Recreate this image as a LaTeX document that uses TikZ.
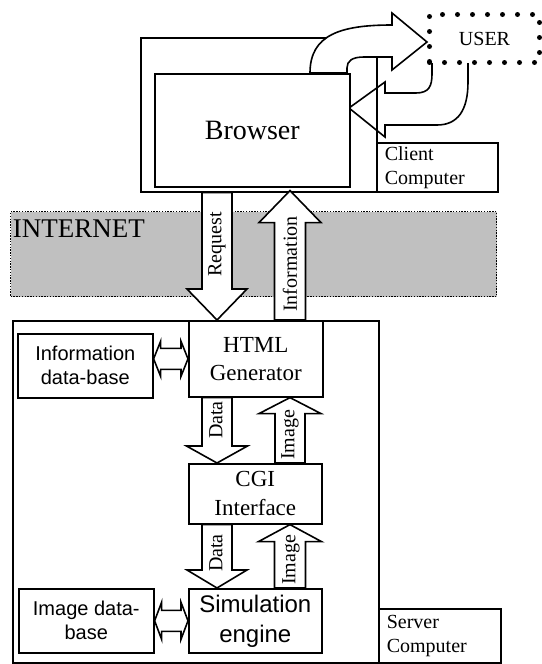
\documentclass[tikz,border=0pt]{standalone}
\usepackage{fontspec}
\setmainfont{Liberation Serif}
\newfontfamily\sansfam{Liberation Sans}
\usetikzlibrary{calc}
\definecolor{netgray}{RGB}{192,192,192}

% vertical block arrow: #1 start point, #2 tip point,
% #3 shaft half width, #4 head half width, #5 head length
\newcommand\vblock[5]{%
  \draw[blk] let \p1=#1, \p2=#2, \n1={sign((\y1)-(\y2))*#5} in
    ({\x2-#3},{\y1}) -- ({\x2-#3},{\y2+\n1}) -- ({\x2-#4},{\y2+\n1}) -- (\x2,\y2)
    -- ({\x2+#4},{\y2+\n1}) -- ({\x2+#3},{\y2+\n1}) -- ({\x2+#3},{\y1}) -- cycle;}

% horizontal double block arrow: #1 left tip, #2 right tip,
% #3 shaft half width, #4 head half width, #5 head length
\newcommand\hdouble[5]{%
  \draw[blk] let \p1=#1, \p2=#2 in
    (\x1,\y1) -- ({\x1+#5},{\y1+#4}) -- ({\x1+#5},{\y1+#3}) -- ({\x2-#5},{\y1+#3})
    -- ({\x2-#5},{\y1+#4}) -- (\x2,\y1) -- ({\x2-#5},{\y1-#4}) -- ({\x2-#5},{\y1-#3})
    -- ({\x1+#5},{\y1-#3}) -- ({\x1+#5},{\y1-#4}) -- cycle;}

\begin{document}
\begin{tikzpicture}[x=1pt, y=-1pt, line width=1.6pt,
  box/.style={draw, fill=white, inner sep=0pt, anchor=north west},
  frame/.style={draw, inner sep=0pt, anchor=north west},
  blk/.style={draw, fill=white, line join=miter, miter limit=10},
  sansf/.style={font=\sansfam\fontsize{20pt}{24pt}\selectfont},
  lbl/.style={font=\fontsize{20pt}{24pt}\selectfont, inner sep=0pt, rotate=90}]
\useasboundingbox (0,0) rectangle (541,664);

% Internet band
\node (net) [frame, fill=netgray, line width=1.3pt, dash pattern=on 1.4pt off 1.4pt,
  minimum width=486pt, minimum height=85pt] at (10,211) {};
\node (netlabel) [anchor=base west, inner sep=0pt, font=\fontsize{27pt}{32pt}\selectfont]
  at (12,237) {INTERNET};

% column positions of the vertical block arrows
\coordinate (colA) at (217,0);
\coordinate (colB) at (290,0);

% USER -> Browser (drawn below the client frame)
\draw[blk] (349,108) -- (385,82) -- (385,93) -- (416,93)
  .. controls (429,93) and (432,86) .. (432,74) -- (432,55) -- (468,55) -- (468,82)
  .. controls (468,110) and (458,125) .. (437,125) -- (385,125) -- (385,137) -- cycle;

% client side
\node (client) [frame, minimum width=236pt, minimum height=154pt] at (140,37) {};
\node (browser) [box, minimum width=195pt, minimum height=113pt,
  font=\fontsize{28pt}{34pt}\selectfont] at (154,73) {Browser};

% Browser -> USER
\draw[blk] (310,73) .. controls (310,35) and (340,25) .. (392,25) -- (392,13)
  -- (427,42) -- (392,70) -- (392,57) -- (364,57)
  .. controls (352,57) and (347,61) .. (347,68) -- (347,73) -- cycle;

\node (clientlbl) [box, minimum width=121pt, minimum height=49pt, text width=105pt,
  inner xsep=8pt, align=left, font=\fontsize{20pt}{24pt}\selectfont]
  at (376,142) {Client\\Computer};

\node (user) [draw, fill=white, anchor=north west, inner sep=0pt, line width=5pt,
  line cap=round, dash pattern=on 0pt off 15pt, minimum width=110pt, minimum height=48pt,
  font=\fontsize{20pt}{24pt}\selectfont] at (427,12) {USER};

% server side
\node (server) [frame, minimum width=366pt, minimum height=342pt] at (12,320) {};
\node (serverlbl) [box, minimum width=122pt, minimum height=54pt, text width=106pt,
  inner xsep=8pt, align=left, font=\fontsize{20pt}{24pt}\selectfont]
  at (378,608) {Server\\Computer};

\node (html) [box, minimum width=134pt, minimum height=76pt, align=center,
  font=\fontsize{23pt}{28pt}\selectfont] at (188,320) {HTML\\Generator};
\node (cgi) [box, minimum width=133pt, minimum height=60pt, align=center,
  font=\fontsize{23pt}{29pt}\selectfont] at (188,463) {CGI\\Interface};
\node (sim) [box, minimum width=133pt, minimum height=64pt, align=center,
  font=\sansfam\fontsize{24pt}{30pt}\selectfont] at (188,588) {Simulation\\engine};
\node (infodb) [box, minimum width=135pt, minimum height=64pt, align=center, sansf]
  at (17,333) {Information\\data-base};
\node (imgdb) [box, minimum width=135pt, minimum height=64pt, align=center, sansf]
  at (18,588) {Image data-\\base};

% block arrows
\vblock{(colA |- client.south)}{(colA |- html.north)}{15}{30}{31}
\vblock{(colB |- html.north)}{($(colB |- client.south)+(0,-2)$)}{15.5}{31}{32}
\vblock{(colA |- html.south)}{(colA |- cgi.north)}{15}{30.5}{17}
\vblock{(colB |- cgi.north)}{(colB |- html.south)}{15}{31}{16}
\vblock{(colA |- cgi.south)}{(colA |- sim.north)}{15}{30}{18}
\vblock{(colB |- sim.north)}{(colB |- cgi.south)}{15.5}{31.5}{17}

\hdouble{(infodb.east |- html.west)}{(html.west)}{10.5}{17.5}{7}
\hdouble{(imgdb.east)}{(sim.west)}{10.5}{18.5}{7}

% arrow labels
\node (reqlbl) [lbl] at (217,244.5) {Request};
\node (infolbl) [lbl] at (290,264) {Information};
\node (data1) [lbl] at (216,420) {Data};
\node (img1) [lbl] at (290,435) {Image};
\node (data2) [lbl] at (216,553) {Data};
\node (img2) [lbl] at (291,560) {Image};
\end{tikzpicture}
\end{document}
